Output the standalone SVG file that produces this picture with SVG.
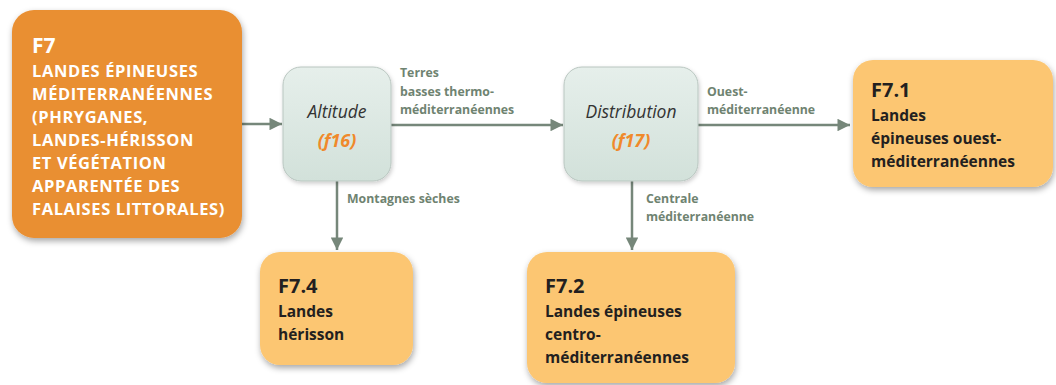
<svg xmlns="http://www.w3.org/2000/svg" width="1056" height="385" viewBox="0 0 1056 385">
<defs>
<filter id="sh" x="-20%" y="-20%" width="140%" height="140%">
<feDropShadow dx="1" dy="3" stdDeviation="3" flood-color="#000" flood-opacity="0.35"/>
</filter>
<filter id="sh2" x="-20%" y="-20%" width="140%" height="140%">
<feDropShadow dx="1" dy="2" stdDeviation="2" flood-color="#000" flood-opacity="0.2"/>
</filter>
<linearGradient id="gq" x1="0" y1="0" x2="0" y2="1">
<stop offset="0" stop-color="#e6efeb"/>
<stop offset="1" stop-color="#d2e1da"/>
</linearGradient>
<marker id="ah" viewBox="0 0 10 10" refX="10" refY="5" markerWidth="6" markerHeight="5" markerUnits="strokeWidth" orient="auto">
<path d="M0,0 L10,5 L0,10 Z" fill="#76877a"/>
</marker>
<style>
.lbl{font-family:"Open Sans","Liberation Sans",sans-serif;font-weight:bold;font-size:12.3px;fill:#6f8371}
.con{stroke:#76877a;stroke-width:2.5;fill:none;marker-end:url(#ah)}
.res{fill:#fcc672}
.rt{font-family:"Open Sans","Liberation Sans",sans-serif;font-weight:bold;font-size:15.5px;fill:#231f20}
.rh{font-size:20px}
.q{fill:url(#gq);stroke:#b9c6c0;stroke-width:1}
.qt{font-family:"Open Sans","Liberation Sans",sans-serif;font-style:italic;font-size:17.5px;fill:#333}
.qf{font-family:"Open Sans","Liberation Sans",sans-serif;font-style:italic;font-weight:bold;font-size:18px;fill:#f0892b}
.ft{font-family:"Open Sans","Liberation Sans",sans-serif;font-weight:bold;font-size:16.5px;letter-spacing:0.6px;fill:#fff}
</style>
</defs>
<rect width="1056" height="385" fill="#fff"/>

<g id="connectors">
<line class="con" x1="242" y1="124" x2="282" y2="124"/>
<line class="con" x1="391" y1="125" x2="563" y2="125"/>
<line class="con" x1="337" y1="181" x2="337" y2="250"/>
<line class="con" x1="698" y1="125" x2="850" y2="125"/>
<line class="con" x1="632" y1="181" x2="632" y2="250"/>
<text class="lbl" x="400" y="77">Terres</text>
<text class="lbl" x="400" y="96">basses thermo-</text>
<text class="lbl" x="400" y="114">méditerranéennes</text>
<text class="lbl" x="347" y="203">Montagnes sèches</text>
<text class="lbl" x="707" y="96">Ouest-</text>
<text class="lbl" x="707" y="114">méditerranéenne</text>
<text class="lbl" x="646" y="203">Centrale</text>
<text class="lbl" x="646" y="221">méditerranéenne</text>
</g>

<g id="F7">
<rect x="12" y="10" width="230" height="228" rx="22" fill="#e98f33" filter="url(#sh)"/>
<text class="ft" x="32" y="53" style="font-size:21px;letter-spacing:0">F7</text>
<text class="ft" x="32" y="77">LANDES ÉPINEUSES</text>
<text class="ft" x="32" y="100">MÉDITERRANÉENNES</text>
<text class="ft" x="32" y="123">(PHRYGANES,</text>
<text class="ft" x="32" y="146">LANDES-HÉRISSON</text>
<text class="ft" x="32" y="169">ET VÉGÉTATION</text>
<text class="ft" x="32" y="192">APPARENTÉE DES</text>
<text class="ft" x="32" y="215">FALAISES LITTORALES)</text>
</g>

<g id="altitude">
<rect class="q" x="283" y="67" width="108" height="114" rx="18" filter="url(#sh2)"/>
<text class="qt" x="337" y="118" text-anchor="middle">Altitude</text>
<text class="qf" x="337" y="147" text-anchor="middle">(f16)</text>
</g>

<g id="distribution">
<rect class="q" x="564" y="67" width="134" height="114" rx="18" filter="url(#sh2)"/>
<text class="qt" x="631" y="118" text-anchor="middle">Distribution</text>
<text class="qf" x="631" y="147" text-anchor="middle">(f17)</text>
</g>

<g id="F7.1">
<rect class="res" x="853" y="60" width="200" height="127" rx="20" filter="url(#sh)"/>
<text class="rt rh" x="871" y="97">F7.1</text>
<text class="rt" x="871" y="121">Landes</text>
<text class="rt" x="871" y="144">épineuses ouest-</text>
<text class="rt" x="871" y="167">méditerranéennes</text>
</g>

<g id="F7.4">
<rect class="res" x="260" y="252" width="153" height="113" rx="20" filter="url(#sh)"/>
<text class="rt rh" x="278" y="293">F7.4</text>
<text class="rt" x="278" y="317">Landes</text>
<text class="rt" x="278" y="340">hérisson</text>
</g>

<g id="F7.2">
<rect class="res" x="527" y="252" width="208" height="131" rx="20" filter="url(#sh)"/>
<text class="rt rh" x="545" y="293">F7.2</text>
<text class="rt" x="545" y="317">Landes épineuses</text>
<text class="rt" x="545" y="340">centro-</text>
<text class="rt" x="545" y="363">méditerranéennes</text>
</g>
</svg>
